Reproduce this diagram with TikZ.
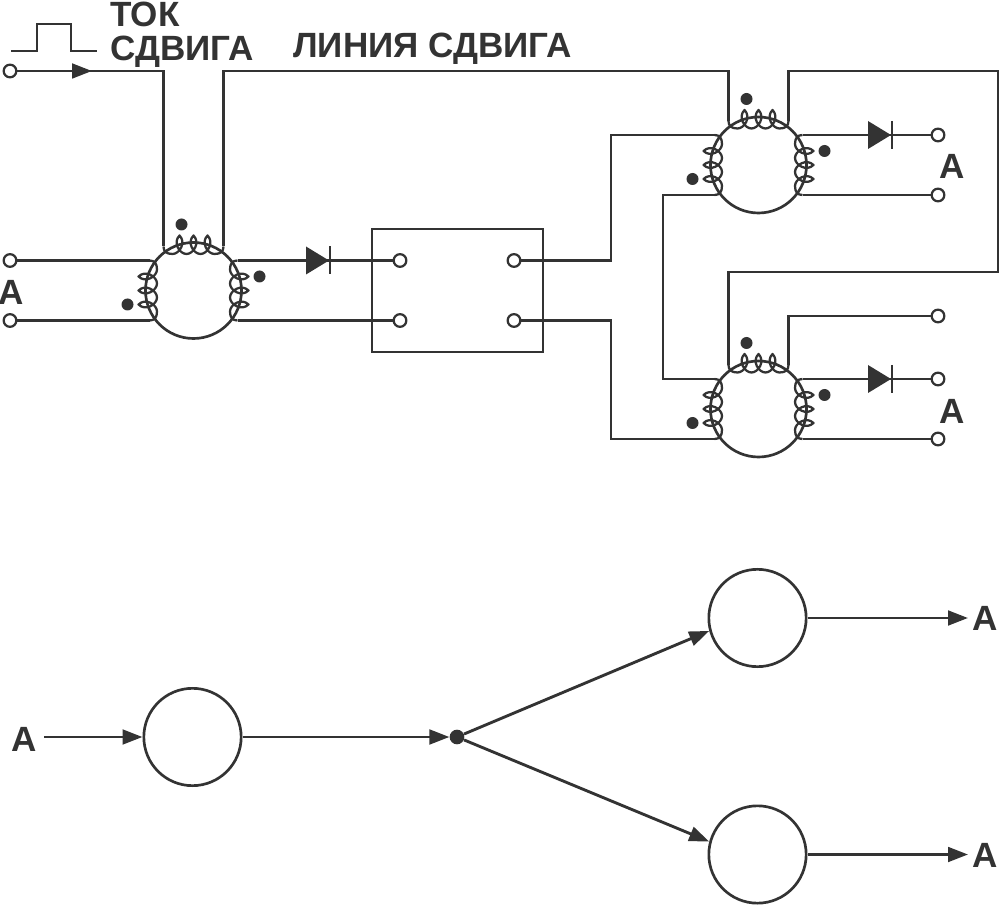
\documentclass[tikz,border=0pt]{standalone}
\usepackage{fontspec}
\setmainfont{Liberation Sans}
\usetikzlibrary{arrows.meta}
\definecolor{ink}{HTML}{333333}
\newcommand{\coilturn}[1]{ .. controls (#1,9.5) and (#1+7,-2) .. (#1,-9) .. controls (#1-7,-2) and (#1,9.5) .. (#1+7,9.5)}
\tikzset{
  wire/.style={draw=ink, line width=2.15pt, line join=miter},
  thin wire/.style={draw=ink, line width=1.7pt},
  coilwire/.style={draw=ink, line width=1.7pt, line join=round},
  link/.style={wire, -{Triangle[length=15pt,width=11pt]}},
  term/.style={circle, draw=ink, line width=1.7pt, fill=white, minimum size=9.5pt, inner sep=0pt},
  elem/.style={circle, draw=ink, line width=2pt, minimum size=73pt, inner sep=0pt},
  lbl/.style={font=\fontsize{26.3}{26.3}\selectfont\bfseries, text=ink, inner sep=0pt},
  core/.pic={
    \draw[wire, line width=2pt] (0,0) circle [radius=48];
    \foreach \a in {0,90,-90}
      \draw[coilwire, rotate=\a, shift={(0,-46)}] (-30,2) .. controls (-30,7) and (-27,9.5) .. (-21,9.5)
        \coilturn{-14} \coilturn{0} \coilturn{14} .. controls (27,9.5) and (30,7) .. (30,2);
    \fill[ink] (-12,-66) circle [radius=6] (66,-14) circle [radius=6] (-66,14) circle [radius=6];
    \coordinate (-tl) at (-30,-44);
    \coordinate (-tr) at (30,-44);
    \coordinate (-rt) at (44,-30);
    \coordinate (-rb) at (44,30);
    \coordinate (-lt) at (-44,-30);
    \coordinate (-lb) at (-44,30);
  },
  diode/.pic={
    \fill[ink] (-12,-14) -- (11,0) -- (-12,14) -- cycle;
    \draw[thin wire] (12,-14) -- (12,14);
  }
}
\begin{document}
\begin{tikzpicture}[x=0.75pt, y=-0.75pt]
\useasboundingbox (0,0) rectangle (1000,905);

% --- labels ---
\node[lbl, anchor=base west] (tok) at (110,26.5) {ТОК};
\node[lbl, anchor=base west] (sdv) at (110,61) {СДВИГА};
\node[lbl, anchor=base west] (line) at (293,58) {ЛИНИЯ СДВИГА};
\node[lbl, anchor=base] (a1) at (11,305) {А};
\node[lbl, anchor=base] (a2) at (952,179) {А};
\node[lbl, anchor=base] (a3) at (952,424) {А};

% --- pulse ---
\draw[thin wire] (11,51) -- (37,51) -- (37,24) -- (71,24) -- (71,51) -- (97,51);

% --- cores ---
\pic (c1) at (193.5,290.5) {core};
\pic (c2) at (758.5,165) {core};
\pic (c3) at (758.5,409) {core};

% --- box ---
\node[draw=ink, line width=1.7pt, minimum width=128pt, minimum height=92pt, inner sep=0pt] (box) at (457.5,290.5) {};

% --- terminals ---
\node[term] (t0) at (10,71) {};
\node[term] (t1) at (10,260.5) {};
\node[term] (t2) at (10,320.5) {};
\node[term] (b1) at (400,260.5) {};
\node[term] (b2) at (400,320.5) {};
\node[term] (b3) at (514,260.5) {};
\node[term] (b4) at (514,320.5) {};
\node[term] (o1) at (938,135) {};
\node[term] (o2) at (938,195) {};
\node[term] (o3) at (938,316) {};
\node[term] (o4) at (938,379) {};
\node[term] (o5) at (938,439) {};
\coordinate (tip) at (92,71);
\coordinate (cr) at (998,71);
\coordinate (ret) at (998,272);

% --- shift line ---
\draw[wire] (t0) -| (c1-tl);
\draw[link] (t0) -- (tip);
\draw[wire] (c1-tr) |- (c2-tl |- tip) -- (c2-tl);
\draw[wire] (c2-tr) |- (cr) -- (ret) -| (c3-tl);
\draw[wire] (c3-tr) |- (o3);

% --- signal wires ---
\draw[wire] (t1) -- (c1-lt);
\draw[wire] (t2) -- (c1-lb);
\draw[wire] (c1-rt) -- (b1);
\draw[wire] (c1-rb) -- (b2);
\draw[wire] (b3) -| (611,135) -- (c2-lt);
\draw[wire] (b4) -| (611,439) -- (c3-lb);
\draw[wire] (c2-lb) -| (663,379) -- (c3-lt);
\draw[wire] (c2-rt) -- (o1);
\draw[wire] (c2-rb) -- (o2);
\draw[wire] (c3-rt) -- (o4);
\draw[wire] (c3-rb) -- (o5);

% --- diodes ---
\pic (d1) at (318,260.5) {diode};
\pic (d2) at (880,135) {diode};
\pic (d3) at (880,379) {diode};

% --- lower graph ---
\node[elem] (n1) at (192.5,737) {};
\node[elem] (n2) at (757.5,618) {};
\node[elem] (n3) at (757.5,854.5) {};
\node[circle, fill=ink, minimum size=11pt, inner sep=0pt] (dot) at (457,737) {};
\node[lbl, anchor=base] (ain) at (24,751.5) {А};
\node[lbl, anchor=base] (aout1) at (985.5,630) {А};
\node[lbl, anchor=base] (aout2) at (985.5,867) {А};
\coordinate (ins) at (44,737);
\coordinate (out1) at (968,618);
\coordinate (out2) at (968,854.5);

\draw[link] (ins) -- (n1);
\draw[link] (n1) -- (dot);
\draw[link] (dot) -- (n2.195);
\draw[link] (dot) -- (n3.165);
\draw[link] (n2) -- (out1);
\draw[link] (n3) -- (out2);

\end{tikzpicture}
\end{document}
